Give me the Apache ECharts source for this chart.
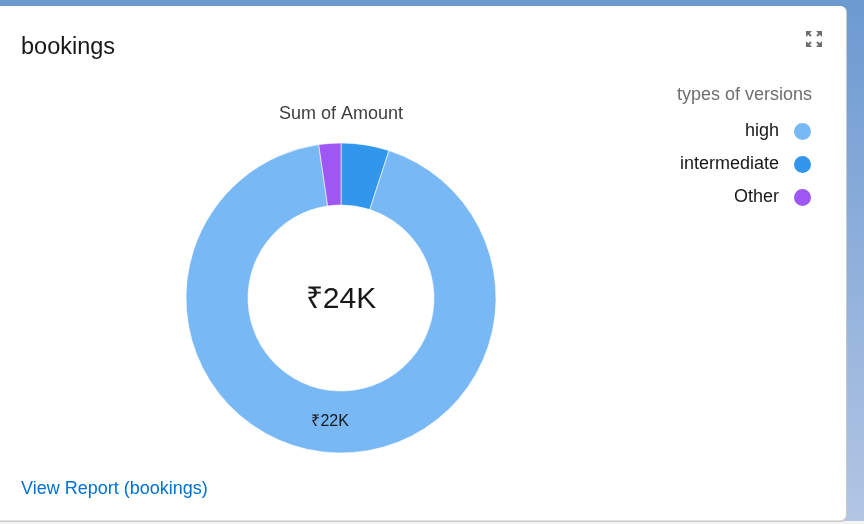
<!DOCTYPE html>
<html>
<head>
<meta charset="utf-8">
<script src="https://cdn.jsdelivr.net/npm/echarts@6/dist/echarts.min.js"></script>
<style>
html,body{margin:0;padding:0;background:#fff;}
#chart{width:864px;height:524px;}
</style>
</head>
<body>
<div id="chart"></div>
<script>
// Data (slice order clockwise from 12 o'clock)
const categories = ['intermediate', 'high', 'Other'];
const values = [1200, 22200, 550];
const colors = ['#3296ed', '#78b8f4', '#9e57f2'];
const legendOrder = ['high', 'intermediate', 'Other'];
const chartTitle = 'bookings';
const measureTitle = 'Sum of Amount';
const legendTitle = 'types of versions';
const footerLink = 'View Report (bookings)';
const labeledCategory = 'high';

const FONT = '"Liberation Sans", Arial, sans-serif';
function fmtK(v) { return '\u20B9' + Math.round(v / 1000) + 'K'; }
const total = values.reduce((a, b) => a + b, 0);

const chart = echarts.init(document.getElementById('chart'), null, {renderer: 'canvas'});

const pieData = categories.map((c, i) => ({
  name: c,
  value: values[i],
  itemStyle: {color: colors[i]},
  label: {show: c === labeledCategory}
}));

const option = {
  animation: false,
  textStyle: {fontFamily: FONT},
  title: [
    {text: chartTitle, left: 21, top: 36, padding: 0, textStyle: {fontSize: 23.5, fontWeight: 'normal', color: '#181818', fontFamily: FONT}},
    {text: measureTitle, left: 341, textAlign: 'center', top: 105, padding: 0, textStyle: {fontSize: 18, fontWeight: 'normal', color: '#3e3e3e', fontFamily: FONT}},
    {text: legendTitle, right: 52, top: 86, padding: 0, textStyle: {fontSize: 18, fontWeight: 'normal', color: '#706e6b', fontFamily: FONT}},
    {text: fmtK(total), left: 341, textAlign: 'center', top: 285, padding: 0, textStyle: {fontSize: 30, fontWeight: 'normal', color: '#181818', fontFamily: FONT}},
    {text: footerLink, left: 21, top: 480, padding: 0, textStyle: {fontSize: 18, fontWeight: 'normal', color: '#0070d2', fontFamily: FONT}}
  ],
  legend: {
    orient: 'vertical',
    right: 51,
    top: 121,
    padding: 0,
    align: 'right',
    icon: 'circle',
    itemWidth: 19,
    itemHeight: 19,
    itemGap: 12,
    data: legendOrder,
    selectedMode: false,
    textStyle: {fontSize: 18, color: '#181818', fontFamily: FONT, padding: [0, 9, 0, 0]}
  },
  graphic: [
    {type: 'rect', z: 0, silent: true, shape: {x: 0, y: 0, width: 864, height: 524},
      style: {fill: new echarts.graphic.LinearGradient(0, 0, 0, 1, [
        {offset: 0, color: '#6c9ad1'}, {offset: 1, color: '#b3c6e4'}])}},
    {type: 'rect', z: 0, silent: true, shape: {x: -10, y: 521, width: 874, height: 3}, style: {fill: '#f4f4f4'}},
    {type: 'rect', z: 0, silent: true, shape: {x: -10, y: 6, width: 857, height: 516, r: 6}, style: {fill: '#c9c9c9'}},
    {type: 'rect', z: 0, silent: true, shape: {x: -10, y: 6, width: 856, height: 514.5, r: 6}, style: {fill: '#ffffff'}},
    // expand icon
    {type: 'group', z: 1, silent: true, children: [
      {type: 'polygon', shape: {points: [[806, 31], [812, 31], [806, 37]]}, style: {fill: '#706e6b'}},
      {type: 'line', shape: {x1: 807, y1: 32, x2: 811, y2: 36}, style: {stroke: '#706e6b', lineWidth: 2}},
      {type: 'polygon', shape: {points: [[822, 31], [816, 31], [822, 37]]}, style: {fill: '#706e6b'}},
      {type: 'line', shape: {x1: 821, y1: 32, x2: 817, y2: 36}, style: {stroke: '#706e6b', lineWidth: 2}},
      {type: 'polygon', shape: {points: [[806, 47], [812, 47], [806, 41]]}, style: {fill: '#706e6b'}},
      {type: 'line', shape: {x1: 807, y1: 46, x2: 811, y2: 42}, style: {stroke: '#706e6b', lineWidth: 2}},
      {type: 'polygon', shape: {points: [[822, 47], [816, 47], [822, 41]]}, style: {fill: '#706e6b'}},
      {type: 'line', shape: {x1: 821, y1: 46, x2: 817, y2: 42}, style: {stroke: '#706e6b', lineWidth: 2}}
    ]}
  ],
  series: [{
    type: 'pie',
    z: 5,
    center: [341, 298],
    radius: [93, 155],
    startAngle: 90,
    clockwise: true,
    avoidLabelOverlap: false,
    silent: true,
    itemStyle: {borderColor: '#ffffff', borderWidth: 0.6},
    label: {
      position: 'inside',
      formatter: p => fmtK(p.value),
      fontSize: 16,
      color: '#181818',
      fontFamily: FONT
    },
    labelLayout: {dy: -3},
    labelLine: {show: false},
    emphasis: {disabled: true},
    data: pieData
  }]
};
chart.setOption(option);
</script>
</body>
</html>
